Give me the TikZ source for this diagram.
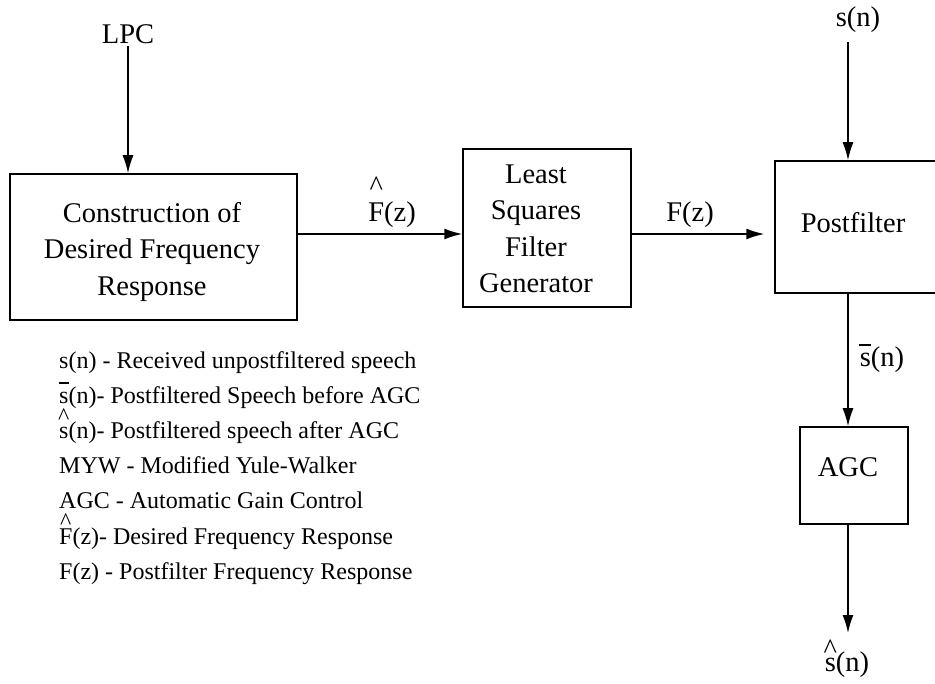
\documentclass[tikz,border=0pt]{standalone}
\usepackage{fontspec}
\setmainfont{Liberation Serif}
\usetikzlibrary{arrows.meta}
\newcommand{\hatover}[2][0.9em]{\setbox0\hbox{#2}\makebox[0pt][l]{\makebox[\wd0][c]{\raisebox{#1}{\textasciicircum}}}#2}
\newcommand{\barover}[2][0.72em]{\setbox0\hbox{#2}\makebox[0pt][l]{\makebox[\wd0][c]{\rule[#1]{1.1\wd0}{0.06em}}}#2}
\begin{document}
\begin{tikzpicture}[x=1pt,y=-1pt,
  box/.style={draw, line width=1.5pt, inner sep=0pt},
  arr/.style={-{Latex[length=18pt,width=11pt]}, line width=1.5pt},
  main/.style={font=\fontsize{28.5}{36.5}\selectfont, align=center, inner sep=0pt},
  leg/.style={font=\fontsize{24}{29}\selectfont, anchor=base west, inner sep=0pt}]
\useasboundingbox (0,0) rectangle (935,684);

% boxes
\node[box, minimum width=287pt, minimum height=146pt] (cdfr) at (153.5,247) {};
\node[main] (cdfrtxt) at (152,252) {Construction of\\Desired Frequency\\Response};

\node[box, minimum width=168pt, minimum height=158pt] (lsfg) at (547,228) {};
\node[main] (lsfgtxt) at (536,229) {Least\\Squares\\Filter\\Generator};

\node[box, minimum width=162pt, minimum height=132pt] (pf) at (856,227) {};
\node[main, anchor=base] (pftxt) at (853,233) {Postfilter};

\node[box, minimum width=108pt, minimum height=97pt] (agc) at (854,475.5) {};
\node[main, anchor=base] (agctxt) at (848,477) {AGC};

% signal labels
\node[main, anchor=base] (lpc) at (128,44) {LPC};
\node[main, anchor=base] (sn) at (858,27) {s(n)};
\node[main, anchor=base] (fhat) at (392,222) {\hatover[0.93em]{F}(z)};
\node[main, anchor=base] (fz) at (690,222) {F(z)};
\node[main, anchor=base] (sbar) at (882,367) {\barover[0.74em]{s}(n)};
\node[main, anchor=base] (shat) at (847,671) {\hatover[0.45em]{s}(n)};

% helper coordinates
\coordinate (xa) at (848,0);
\coordinate (ly) at (0,234);
\coordinate (out) at (848,633);
\path (lpc.south) ++(0,2) coordinate (lpcout);
\path (sn.south) ++(0,9) coordinate (snout);

% connectors
\draw[arr] (lpcout) -- (lpcout |- cdfr.north);
\draw[arr] (cdfr.east |- ly) -- (lsfg.west |- ly);
\draw[arr, shorten >=10pt] (lsfg.east |- ly) -- (pf.west |- ly);
\draw[arr] (snout -| xa) -- (pf.north -| xa);
\draw[arr] (pf.south -| xa) -- (agc.north -| xa);
\draw[arr] (agc.south -| xa) -- (out);

% legend
\node[leg] (l1) at (59,369) {s(n) - Received unpostfiltered speech};
\node[leg] (l2) at (59,404) {\barover[0.85em]{s}(n)- Postfiltered Speech before AGC};
\node[leg] (l3) at (59,439) {\hatover[0.62em]{s}(n)- Postfiltered speech after AGC};
\node[leg] (l4) at (59,474) {MYW - Modified Yule-Walker};
\node[leg] (l5) at (59,509) {AGC - Automatic Gain Control};
\node[leg] (l6) at (59,544) {\hatover[0.62em]{F}(z)- Desired Frequency Response};
\node[leg] (l7) at (59,579) {F(z) - Postfilter Frequency Response};
\end{tikzpicture}
\end{document}
